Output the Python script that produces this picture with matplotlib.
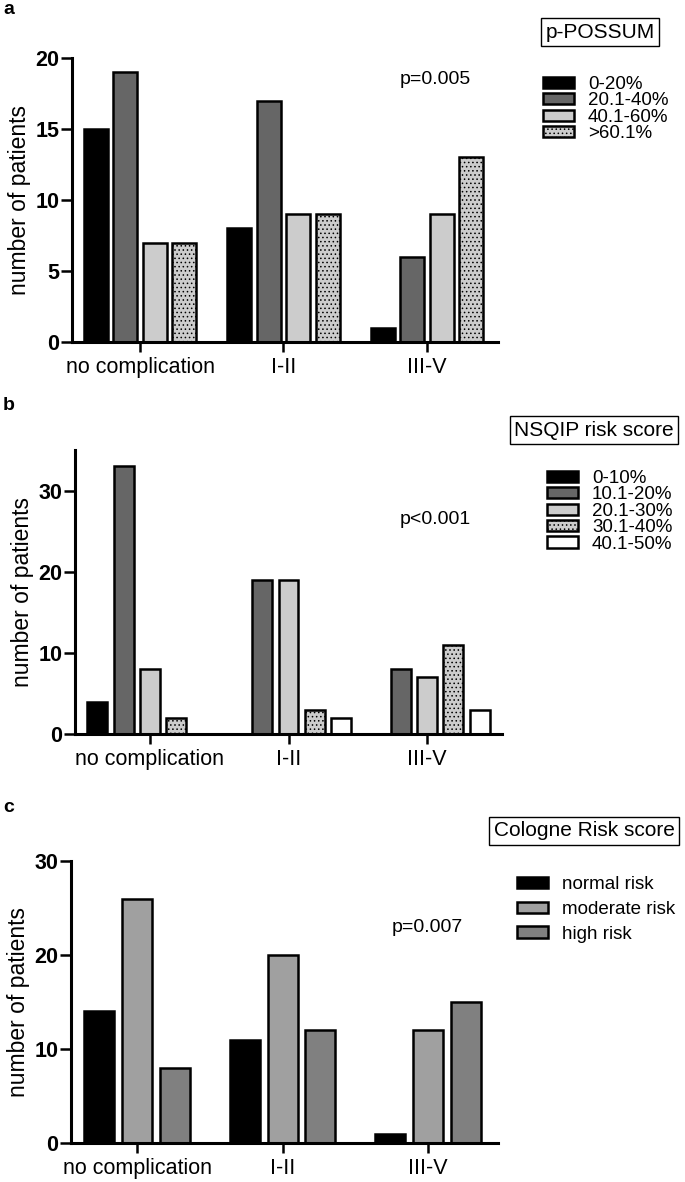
import matplotlib
matplotlib.use("Agg")
import matplotlib.pyplot as plt
import numpy as np

plt.rcParams['font.family'] = ['Liberation Sans', 'DejaVu Sans']
plt.rcParams['hatch.linewidth'] = 0.6

groups = ['no complication', 'I-II', 'III-V']

# panel a: p-POSSUM
possum_labels = ['0-20%', '20.1-40%', '40.1-60%', '>60.1%']
possum_values = [[15, 8, 1], [19, 17, 6], [7, 9, 9], [7, 9, 13]]

# panel b: NSQIP
nsqip_labels = ['0-10%', '10.1-20%', '20.1-30%', '30.1-40%', '40.1-50%']
nsqip_values = [[4, 0, 0], [33, 19, 8], [8, 19, 7], [2, 3, 11], [0, 2, 3]]

# panel c: Cologne
cologne_labels = ['normal risk', 'moderate risk', 'high risk']
cologne_values = [[14, 11, 1], [26, 20, 12], [8, 12, 15]]

W, H = 685, 1182
fig = plt.figure(figsize=(W / 100, H / 100), dpi=100)


def fx(px):
    return px / W


def fy(py):
    return 1 - py / H


def panel(rect, values, labels, colors, hatches, width, step, xlim, ylim, yticks,
          title, title_xy, pval, pval_xy, leg_xy, leg_spacing, letter, letter_y):
    ax = fig.add_axes(rect)
    x = np.arange(len(groups))
    n = len(values)
    for i, vals in enumerate(values):
        lw = [1.8 if v > 0 else 0 for v in vals]
        ax.bar(x + (i - (n - 1) / 2) * step, vals, width, color=colors[i],
               edgecolor='black', linewidth=lw, hatch=hatches[i], label=labels[i])
    ax.set_xlim(*xlim)
    ax.set_ylim(*ylim)
    ax.set_yticks(yticks)
    ax.set_xticks(x)
    ax.set_xticklabels(groups, fontsize=15.5)
    for lab in ax.get_yticklabels():
        lab.set_fontweight('bold')
        lab.set_fontsize(15.5)
    ax.spines['top'].set_visible(False)
    ax.spines['right'].set_visible(False)
    ax.spines['left'].set_linewidth(2.2)
    ax.spines['bottom'].set_linewidth(2.2)
    ax.tick_params(axis='y', length=8, width=1.8, pad=1)
    ax.tick_params(axis='x', length=7, width=1.8, pad=4)
    ax.set_ylabel('number of patients', fontsize=16.5, labelpad=3)
    fig.text(fx(title_xy[0]), fy(title_xy[1]), title, fontsize=15, ha='center', va='center',
             bbox=dict(boxstyle='square,pad=0.2', fc='white', ec='black', lw=1))
    fig.text(fx(pval_xy[0]), fy(pval_xy[1]), pval, fontsize=14, ha='left', va='center')
    leg = ax.legend(loc='upper left', bbox_to_anchor=(fx(leg_xy[0]), fy(leg_xy[1])),
                    bbox_transform=fig.transFigure, frameon=False, fontsize=13.5,
                    borderpad=0, borderaxespad=0, handlelength=1.65, handleheight=0.55,
                    handletextpad=0.75, labelspacing=leg_spacing)
    for p in leg.get_patches():
        p.set_linewidth(1.8)
    fig.text(fx(3), fy(letter_y), letter, fontsize=14, fontweight='bold', ha='left', va='center')
    return ax


panel([fx(72), fy(342), fx(498 - 72), (342 - 58) / H], possum_values, possum_labels,
      ['black', '#666666', '#cccccc', '#cccccc'], [None, None, None, '....'],
      0.167, 0.205, (-0.474, 2.495), (0, 20), [0, 5, 10, 15, 20],
      'p-POSSUM', (600, 32), 'p=0.005', (400, 80), (543, 76), -0.03, 'a', 10)

panel([fx(75), fy(734), fx(502 - 75), (734 - 450) / H], nsqip_values, nsqip_labels,
      ['black', '#666666', '#cccccc', '#cccccc', 'white'], [None, None, None, '....', None],
      0.144, 0.19, (-0.54, 2.54), (0, 35), [0, 10, 20, 30],
      'NSQIP risk score', (594, 430), 'p<0.001', (400, 520), (547, 470), -0.03, 'b', 405)

panel([fx(71), fy(1143), fx(498 - 71), (1143 - 861) / H], cologne_values, cologne_labels,
      ['black', '#a0a0a0', '#808080'], [None, None, None],
      0.206, 0.26, (-0.454, 2.48), (0, 30), [0, 10, 20, 30],
      'Cologne Risk score', (584, 831), 'p=0.007', (392, 928), (517, 876), 0.42, 'c', 808)

fig.savefig('out.png', dpi=100)
